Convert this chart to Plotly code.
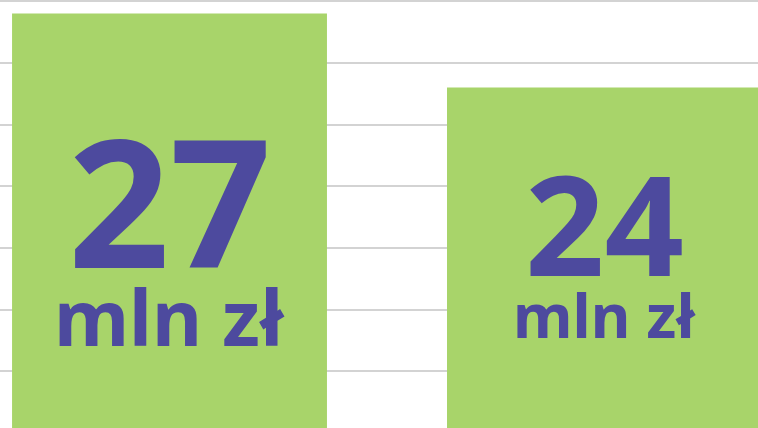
import plotly.graph_objects as go

categories = ["A", "B"]
values = [27, 24]
value_labels = ["27", "24"]
unit_label = "mln zł"

GREEN = "#A8D46A"
PURPLE = "#4D4A9E"
FONT = "Noto Sans"

fig = go.Figure()
fig.add_trace(go.Bar(
    x=[0, 1], y=values, width=0.724,
    marker=dict(color=GREEN, line=dict(width=0)),
    hoverinfo="skip",
))

# text styling per bar (sizes and vertical offsets below the bar top, in axis units)
num_sizes = [178, 139]
unit_sizes = [77, 61]
num_offsets = [7.53, 5.45]
unit_offsets = [12.26, 9.2]

for i, (v, lab) in enumerate(zip(values, value_labels)):
    fig.add_annotation(x=i, y=v - num_offsets[i], xref="x", yref="y", text=f"<b>{lab}</b>",
                       showarrow=False, font=dict(family=FONT, size=num_sizes[i], color=PURPLE),
                       xanchor="center", yanchor="middle")
    fig.add_annotation(x=i, y=v - unit_offsets[i], xref="x", yref="y", text=f"<b>{unit_label}</b>",
                       showarrow=False, font=dict(family=FONT, size=unit_sizes[i], color=PURPLE),
                       xanchor="center", yanchor="middle")

fig.update_layout(
    width=758, height=428,
    margin=dict(l=0, r=0, t=0, b=0),
    paper_bgcolor="white", plot_bgcolor="white",
    showlegend=False,
    xaxis=dict(range=[-0.3897, 1.353], showticklabels=False, showgrid=False, zeroline=False, fixedrange=True),
    yaxis=dict(range=[27.55 - 428 / 24.67, 27.55], dtick=2.5, tick0=0, showticklabels=False, showgrid=True,
               gridcolor="#D3D3D3", gridwidth=2, zeroline=False, fixedrange=True),
)

fig.write_html("out.html", config={"displayModeBar": False},
               post_script="document.body.style.margin='0';document.body.style.overflow='hidden';")
